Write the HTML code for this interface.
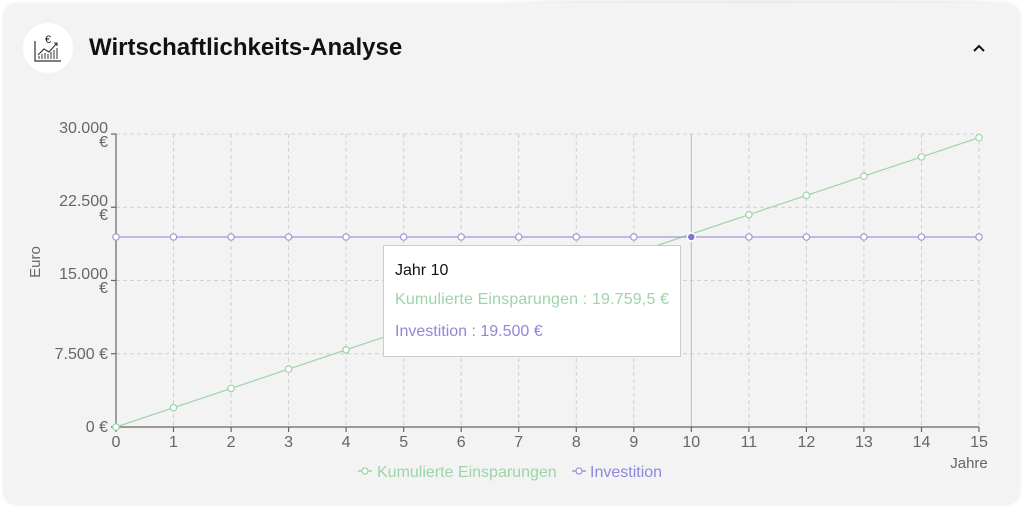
<!DOCTYPE html>
<html><head><meta charset="utf-8"><style>
html,body{margin:0;padding:0;background:#fff;width:1024px;height:508px;overflow:hidden}
body{font-family:"Liberation Sans",Arial,sans-serif}
.card{position:absolute;left:3px;top:3px;width:1017px;height:502px;background:#f3f3f3;border-radius:14px;box-shadow:0 0 3px rgba(0,0,0,0.08)}
.shade{position:absolute;left:520px;top:-30px;width:480px;height:45px;border-radius:50%;background:rgba(0,0,0,0.07);filter:blur(14px)}
.icon{position:absolute;left:23px;top:23px;width:50px;height:50px;border-radius:50%;background:#fff}
.title{position:absolute;left:89px;top:34px;font-size:24px;font-weight:bold;color:#111}
svg{position:absolute;left:0;top:0}
</style></head><body>
<div class="shade"></div>
<div class="card"></div>
<div class="icon"><svg width="50" height="50" viewBox="0 0 50 50" style="position:absolute;left:0;top:0">
<text x="25" y="20" font-size="11" text-anchor="middle" fill="#222" font-family="Liberation Sans">€</text>
<path d="M12 18 V38 H38" stroke="#333" fill="none" stroke-width="1.2"/>
<path d="M15 32 L21 26 L26 29 L34 20 M31 20 H34 V23" stroke="#333" fill="none" stroke-width="1.1"/>
<path d="M16 36V33 M19 36V31 M22 36V30 M25 36V31 M28 36V29 M31 36V27 M34 36V25" stroke="#333" stroke-width="1"/>
</svg></div>
<div class="title">Wirtschaftlichkeits-Analyse</div>
<svg width="1024" height="508" font-family="Liberation Sans, Arial, sans-serif">
<path d="M974 51 L979 46 L984 51" stroke="#111" stroke-width="2" fill="none"/>
<g stroke="#d0d0d0" stroke-dasharray="4,3" stroke-width="1">
<line x1="116" y1="134" x2="979" y2="134"/><line x1="116" y1="207.25" x2="979" y2="207.25"/><line x1="116" y1="280.5" x2="979" y2="280.5"/><line x1="116" y1="353.75" x2="979" y2="353.75"/>
<line x1="173.5" y1="134" x2="173.5" y2="427"/><line x1="231.1" y1="134" x2="231.1" y2="427"/><line x1="288.6" y1="134" x2="288.6" y2="427"/><line x1="346.1" y1="134" x2="346.1" y2="427"/><line x1="403.7" y1="134" x2="403.7" y2="427"/><line x1="461.2" y1="134" x2="461.2" y2="427"/><line x1="518.7" y1="134" x2="518.7" y2="427"/><line x1="576.3" y1="134" x2="576.3" y2="427"/><line x1="633.8" y1="134" x2="633.8" y2="427"/><line x1="748.9" y1="134" x2="748.9" y2="427"/><line x1="806.4" y1="134" x2="806.4" y2="427"/><line x1="863.9" y1="134" x2="863.9" y2="427"/><line x1="921.5" y1="134" x2="921.5" y2="427"/><line x1="979" y1="134" x2="979" y2="427"/>
</g>
<line x1="691.3" y1="134" x2="691.3" y2="427" stroke="#bbb" stroke-width="1"/>
<g stroke="#666" stroke-width="1.2">
<line x1="116" y1="134" x2="116" y2="427"/><line x1="116" y1="427" x2="979" y2="427"/>
<line x1="111" y1="134" x2="116" y2="134"/><line x1="111" y1="207.25" x2="116" y2="207.25"/><line x1="111" y1="280.5" x2="116" y2="280.5"/><line x1="111" y1="353.75" x2="116" y2="353.75"/><line x1="111" y1="427" x2="116" y2="427"/>
<path d="M116 427v5M173.5 427v5M231.1 427v5M288.6 427v5M346.1 427v5M403.7 427v5M461.2 427v5M518.7 427v5M576.3 427v5M633.8 427v5M691.3 427v5M748.9 427v5M806.4 427v5M863.9 427v5M921.5 427v5M979 427v5"/>
</g>
<g fill="#666" font-size="16" text-anchor="end">
<text x="108" y="133">30.000</text><text x="108" y="147">€</text>
<text x="108" y="206">22.500</text><text x="108" y="220">€</text>
<text x="108" y="279">15.000</text><text x="108" y="293">€</text>
<text x="108" y="359">7.500 €</text>
<text x="108" y="432">0 €</text>
</g>
<g fill="#666" font-size="16" text-anchor="middle">
<text x="116" y="447">0</text><text x="173.5" y="447">1</text><text x="231.1" y="447">2</text><text x="288.6" y="447">3</text><text x="346.1" y="447">4</text><text x="403.7" y="447">5</text><text x="461.2" y="447">6</text><text x="518.7" y="447">7</text><text x="576.3" y="447">8</text><text x="633.8" y="447">9</text><text x="691.3" y="447">10</text><text x="748.9" y="447">11</text><text x="806.4" y="447">12</text><text x="863.9" y="447">13</text><text x="921.5" y="447">14</text><text x="979" y="447">15</text>
<text x="969" y="468" font-size="15">Jahre</text>
<text x="0" y="0" font-size="15" transform="translate(40,262) rotate(-90)">Euro</text>
</g>
<polyline fill="none" stroke="#9dd4a8" stroke-width="1.2" points="116,427 173.5,407.7 231.1,388.4 288.6,369.1 346.1,349.8 403.7,330.5 461.2,311.2 518.7,291.9 576.3,272.6 633.8,253.3 691.3,234 748.9,214.7 806.4,195.4 863.9,176.1 921.5,156.9 979,137.6"/>
<polyline fill="none" stroke="#9d98e0" stroke-width="1.2" points="116,237 979,237"/>
<g fill="#fff" stroke="#9dd4a8" stroke-width="1.2">
<circle cx="116" cy="427" r="3.2"/><circle cx="173.5" cy="407.7" r="3.2"/><circle cx="231.1" cy="388.4" r="3.2"/><circle cx="288.6" cy="369.1" r="3.2"/><circle cx="346.1" cy="349.8" r="3.2"/><circle cx="403.7" cy="330.5" r="3.2"/><circle cx="748.9" cy="214.7" r="3.2"/><circle cx="806.4" cy="195.4" r="3.2"/><circle cx="863.9" cy="176.1" r="3.2"/><circle cx="921.5" cy="156.9" r="3.2"/><circle cx="979" cy="137.6" r="3.2"/>
</g>
<g fill="#fff" stroke="#9d98e0" stroke-width="1.2">
<circle cx="116" cy="237" r="3.2"/><circle cx="173.5" cy="237" r="3.2"/><circle cx="231.1" cy="237" r="3.2"/><circle cx="288.6" cy="237" r="3.2"/><circle cx="346.1" cy="237" r="3.2"/><circle cx="403.7" cy="237" r="3.2"/><circle cx="461.2" cy="237" r="3.2"/><circle cx="518.7" cy="237" r="3.2"/><circle cx="576.3" cy="237" r="3.2"/><circle cx="633.8" cy="237" r="3.2"/><circle cx="748.9" cy="237" r="3.2"/><circle cx="806.4" cy="237" r="3.2"/><circle cx="863.9" cy="237" r="3.2"/><circle cx="921.5" cy="237" r="3.2"/><circle cx="979" cy="237" r="3.2"/>
</g>
<circle cx="691.3" cy="237" r="4" fill="#7f79d6" stroke="#fff" stroke-width="1.5"/>
<rect x="383.5" y="245.5" width="297" height="111" fill="#fff" stroke="#ccc"/>
<text x="395" y="275" font-size="16" fill="#111">Jahr 10</text>
<text x="395" y="304" font-size="16" fill="#9dd4a8" textLength="274">Kumulierte Einsparungen : 19.759,5 €</text>
<text x="395" y="336" font-size="16" fill="#8e88dc">Investition : 19.500 €</text>
<line x1="358" y1="471" x2="372" y2="471" stroke="#9dd4a8" stroke-width="1.5"/><circle cx="365" cy="471" r="3" fill="#fff" stroke="#9dd4a8" stroke-width="1.3"/>
<text x="377" y="477" font-size="16" fill="#9dd4a8">Kumulierte Einsparungen</text>
<line x1="572" y1="471" x2="586" y2="471" stroke="#9d98e0" stroke-width="1.5"/><circle cx="579" cy="471" r="3" fill="#fff" stroke="#9d98e0" stroke-width="1.3"/>
<text x="590" y="477" font-size="16" fill="#8e88dc">Investition</text>
</svg>
</body></html>
